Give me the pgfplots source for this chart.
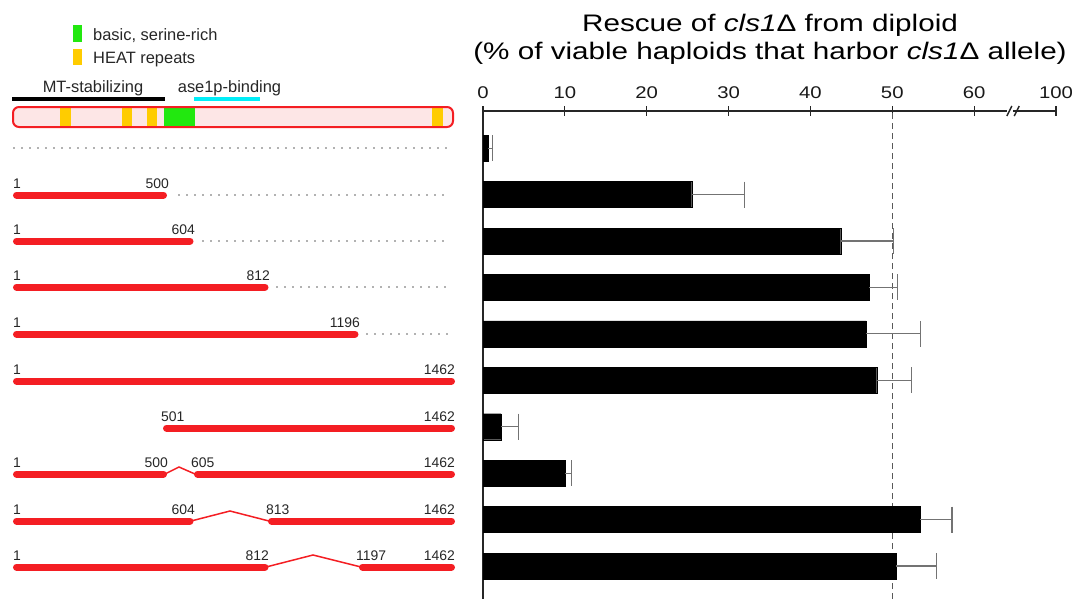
\documentclass[border=0pt]{standalone}
\usepackage{fontspec}
\setmainfont{Liberation Sans}
\usepackage{graphicx}
\usepackage{pgfplots}
\pgfplotsset{compat=1.18}
\definecolor{pred}{HTML}{F41E23}
\definecolor{ppink}{HTML}{FDE6E6}
\definecolor{hgreen}{HTML}{22E80F}
\definecolor{hyellow}{HTML}{FFCC00}
\definecolor{acyan}{HTML}{00EEF8}
\newcommand{\fs}[1]{\fontsize{#1}{#1}\selectfont}
\newcommand{\sx}[1]{\scalebox{1.2}[1]{#1}}
\pgfplotstableread{
r v e
10 0.6 0.6
9 25.5 6.4
8 43.7 6.4
7 47.2 3.4
6 46.8 6.6
5 48.1 4.2
4 2.2 2.1
3 10.0 0.8
2 53.4 3.9
1 50.5 4.9
}\rescue
\begin{document}
\begin{tikzpicture}
\path[use as bounding box] (0,0) rectangle (1075bp,-599bp);
% ---------------- left schematic ----------------
\begin{axis}[at={(0bp,0bp)}, anchor=north west, scale only axis,
  width=470bp, height=599bp, xmin=0, xmax=470, ymin=0, ymax=599,
  y dir=reverse, hide axis, clip=false]
% legend
\addplot[fill=hgreen, draw=none] coordinates {(73,25)(82,25)(82,42)(73,42)} -- cycle;
\addplot[fill=hyellow, draw=none] coordinates {(73,49)(82,49)(82,65)(73,65)} -- cycle;
\node[anchor=base west, font=\fs{16.5}, text=black!85, inner sep=0pt] at (axis cs:93,40) {basic, serine-rich};
\node[anchor=base west, font=\fs{16.5}, text=black!85, inner sep=0pt] at (axis cs:93,63) {HEAT repeats};
% regions
\node[anchor=base, font=\fs{16.5}, text=black!85, inner sep=0pt] at (axis cs:93,92) {MT-stabilizing};
\node[anchor=base, font=\fs{16.5}, text=black!85, inner sep=0pt] at (axis cs:229.5,92) {ase1p-binding};
\addplot[black, line width=3.5bp] coordinates {(12,99)(165,99)};
\addplot[acyan, line width=3.5bp] coordinates {(194,99)(260,99)};
% full protein
\addplot[fill=ppink, draw=none, rounded corners=6bp] coordinates {(13,107)(453,107)(453,127)(13,127)} -- cycle;
\addplot[fill=hyellow, draw=none] coordinates {(60,108)(70.7,108)(70.7,126)(60,126)} -- cycle;
\addplot[fill=hyellow, draw=none] coordinates {(121.7,108)(132.3,108)(132.3,126)(121.7,126)} -- cycle;
\addplot[fill=hyellow, draw=none] coordinates {(146.7,108)(156.7,108)(156.7,126)(146.7,126)} -- cycle;
\addplot[fill=hgreen, draw=none] coordinates {(164,108)(195,108)(195,126)(164,126)} -- cycle;
\addplot[fill=hyellow, draw=none] coordinates {(432.3,108)(442.7,108)(442.7,126)(432.3,126)} -- cycle;
\addplot[draw=pred, line width=2bp, rounded corners=6bp] coordinates {(13,107)(453,107)(453,127)(13,127)} -- cycle;
% dotted guide lines
\addplot[black!30, line width=1.6bp, dash pattern=on 1.6bp off 6.4bp] coordinates {(13,148)(450,148)};
\addplot[black!30, line width=1.6bp, dash pattern=on 1.6bp off 6.4bp] coordinates {(178,195)(450,195)};
\addplot[black!30, line width=1.6bp, dash pattern=on 1.6bp off 6.4bp] coordinates {(202,241)(450,241)};
\addplot[black!30, line width=1.6bp, dash pattern=on 1.6bp off 6.4bp] coordinates {(276,287)(450,287)};
\addplot[black!30, line width=1.6bp, dash pattern=on 1.6bp off 6.4bp] coordinates {(366,334)(450,334)};
% constructs
\addplot[pred, line width=7bp, line cap=round] coordinates {(16.5,195)(163.5,195)};
\addplot[pred, line width=7bp, line cap=round] coordinates {(16.5,241)(190,241)};
\addplot[pred, line width=7bp, line cap=round] coordinates {(16.5,287)(265,287)};
\addplot[pred, line width=7bp, line cap=round] coordinates {(16.5,334)(355,334)};
\addplot[pred, line width=7bp, line cap=round] coordinates {(16.5,381)(451.5,381)};
\addplot[pred, line width=7bp, line cap=round] coordinates {(166.5,428)(451.5,428)};
\addplot[pred, line width=7bp, line cap=round] coordinates {(16.5,474)(163.5,474)};
\addplot[pred, line width=1.5bp] coordinates {(165,474)(179,467)(195,474)};
\addplot[pred, line width=7bp, line cap=round] coordinates {(197.5,474)(451.5,474)};
\addplot[pred, line width=7bp, line cap=round] coordinates {(16.5,521)(190,521)};
\addplot[pred, line width=1.5bp] coordinates {(191,521)(230,511)(269,521)};
\addplot[pred, line width=7bp, line cap=round] coordinates {(271.5,521)(451.5,521)};
\addplot[pred, line width=7bp, line cap=round] coordinates {(16.5,567)(265,567)};
\addplot[pred, line width=1.5bp] coordinates {(266,567)(313,555)(361,567)};
\addplot[pred, line width=7bp, line cap=round] coordinates {(362.5,567)(451.5,567)};
% residue labels
\begin{scope}[every node/.style={font=\fs{14}, text=black!85, inner sep=0pt}]
\node[anchor=base west] at (axis cs:13,188) {1};
\node[anchor=base east] at (axis cs:169,188) {500};
\node[anchor=base west] at (axis cs:13,234) {1};
\node[anchor=base east] at (axis cs:195,234) {604};
\node[anchor=base west] at (axis cs:13,280) {1};
\node[anchor=base east] at (axis cs:270,280) {812};
\node[anchor=base west] at (axis cs:13,327) {1};
\node[anchor=base east] at (axis cs:360,327) {1196};
\node[anchor=base west] at (axis cs:13,374) {1};
\node[anchor=base east] at (axis cs:455,374) {1462};
\node[anchor=base west] at (axis cs:161,421) {501};
\node[anchor=base east] at (axis cs:455,421) {1462};
\node[anchor=base west] at (axis cs:13,467) {1};
\node[anchor=base east] at (axis cs:168,467) {500};
\node[anchor=base west] at (axis cs:191,467) {605};
\node[anchor=base east] at (axis cs:455,467) {1462};
\node[anchor=base west] at (axis cs:13,514) {1};
\node[anchor=base east] at (axis cs:195,514) {604};
\node[anchor=base west] at (axis cs:266,514) {813};
\node[anchor=base east] at (axis cs:455,514) {1462};
\node[anchor=base west] at (axis cs:13,560) {1};
\node[anchor=base east] at (axis cs:269,560) {812};
\node[anchor=base west] at (axis cs:356,560) {1197};
\node[anchor=base east] at (axis cs:455,560) {1462};
\end{scope}
\end{axis}
% ---------------- title ----------------
\node[anchor=base, font=\fs{24}, inner sep=0pt] at (770bp,-31bp) {\scalebox{1.24}[1]{Rescue of \textit{cls1}Δ from diploid}};
\node[anchor=base, font=\fs{24}, inner sep=0pt] at (770bp,-59bp) {\scalebox{1.24}[1]{(\% of viable haploids that harbor \textit{cls1}Δ allele)}};
% ---------------- bar chart ----------------
\begin{axis}[at={(483bp,-111bp)}, anchor=north west, scale only axis,
  width=573bp, height=488bp, xmin=0, xmax=70, ymin=0.29, ymax=10.8,
  axis x line*=top, axis y line*=left,
  xtick={0,10,20,30,40,50,60,70},
  xticklabels={\sx{0},\sx{10},\sx{20},\sx{30},\sx{40},\sx{50},\sx{60},\sx{100}},
  ytick=\empty, tick align=center, major tick length=10bp,
  x tick label style={font=\fs{17}, text=black!90, /pgf/number format/assume math mode=true, inner sep=0pt, anchor=base, yshift=0bp},
  xticklabel shift=8bp,
  axis line style={line width=1.6bp, black!85},
  every tick/.style={line width=1.2bp, black!85},
  clip=false]
\addplot[black!65, line width=1.2bp, dash pattern=on 6bp off 4bp] coordinates {(50,0.29)(50,10.8)};
\addplot[xbar, bar shift=0pt, bar width=26bp, fill=black, draw=black,
  error bars/.cd, x dir=plus, x explicit, error mark=|,
  error bar style={line width=1.2bp, black!55},
  error mark options={line width=1.2bp, black!55, mark size=13bp}]
  table[x=v, y=r, x error=e] {\rescue};
% axis break
\fill[white] (axis cs:64.3,10.8) ++(-2bp,-3bp) rectangle ++(6bp,6bp);
\draw[line width=1.4bp, black!85] (axis cs:64.3,10.8) ++(-2.5bp,-5bp) -- ++(5bp,10bp);
\draw[line width=1.4bp, black!85] (axis cs:65.2,10.8) ++(-2.5bp,-5bp) -- ++(5bp,10bp);
\end{axis}
\end{tikzpicture}
\end{document}
